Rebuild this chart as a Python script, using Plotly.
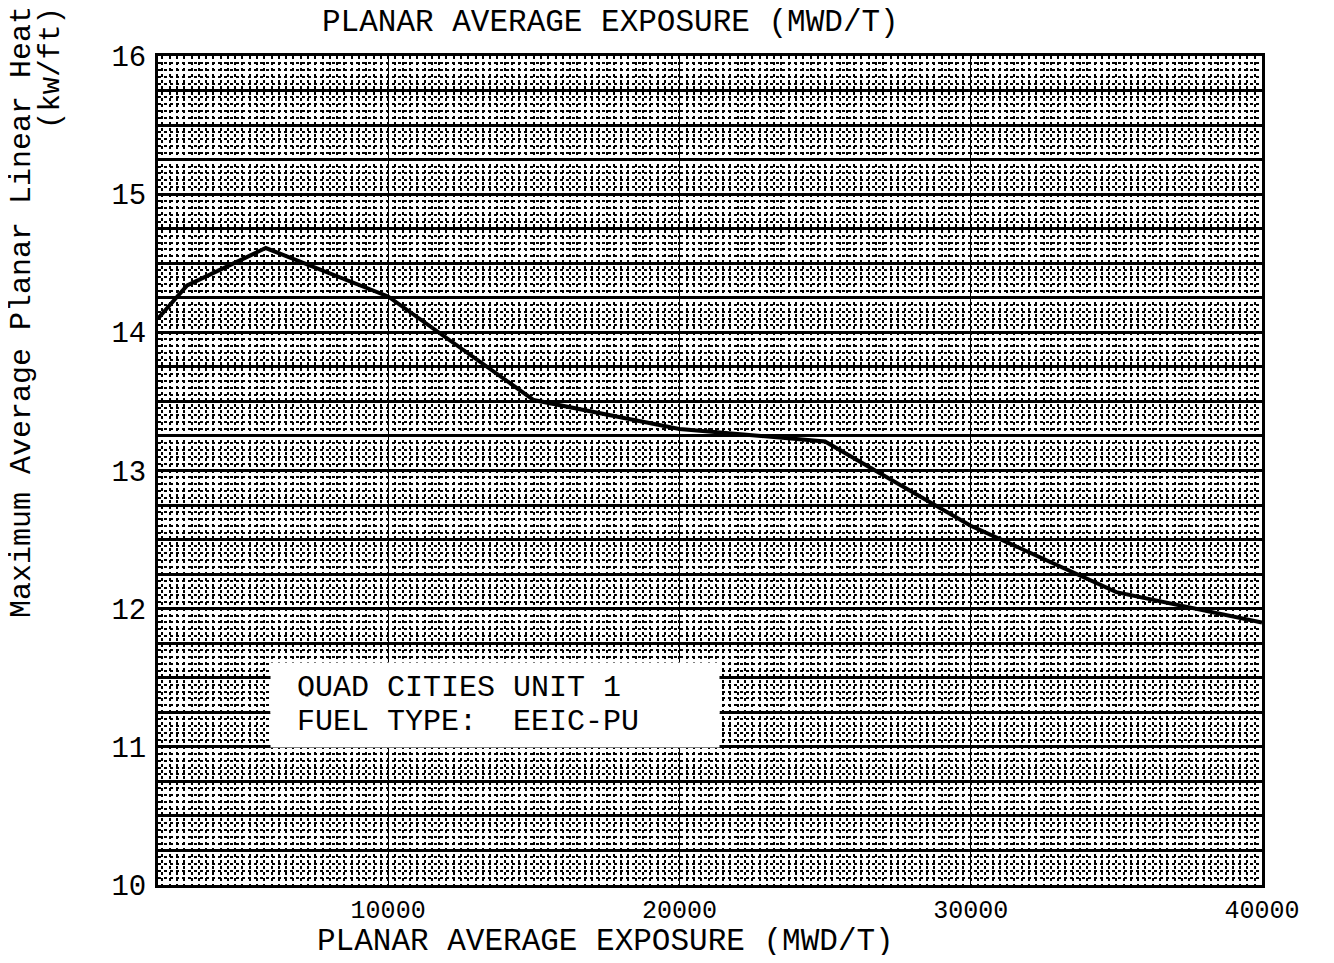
import plotly.graph_objects as go

# ---- data ----
exposure = [2100, 3100, 5800, 10000, 15000, 20000, 25000, 30000, 35000, 40000]
maplhgr = [14.10, 14.34, 14.61, 14.26, 13.51, 13.30, 13.21, 12.60, 12.12, 11.90]

x_tick_vals = [10000, 20000, 30000, 40000]
x_tick_text = ["10000", "20000", "30000", "40000"]
y_label_vals = [10, 11, 12, 13, 14, 15, 16]
y_label_text = ["10", "11", "12", "13", "14", "15", "16"]
y_grid_step = 0.25  # solid rules of the graph paper

title_text = "PLANAR AVERAGE EXPOSURE (MWD/T)"
x_title_text = "PLANAR AVERAGE EXPOSURE (MWD/T)"
y_title_line1 = "Maximum Average Planar Linear Heat"
y_title_line2 = "(kw/ft)"
note_line1 = "QUAD CITIES UNIT 1"
note_line2 = "FUEL TYPE:  EEIC-PU"

MONO = "Liberation Mono, DejaVu Sans Mono, monospace"

# y tick values: solid rules every 0.25, labels only on integers
n_steps = int(round((16 - 10) / y_grid_step))
y_tickvals = [10 + i * y_grid_step for i in range(n_steps + 1)]
y_ticktext = []
for v in y_tickvals:
    if abs(v - round(v)) < 1e-9 and round(v) in y_label_vals:
        y_ticktext.append(y_label_text[y_label_vals.index(round(v))])
    else:
        y_ticktext.append("")

fig = go.Figure()
fig.add_trace(go.Scatter(
    x=exposure, y=maplhgr, mode="lines",
    line=dict(color="black", width=4),
    showlegend=False, hoverinfo="skip",
))

# page body adds an 8px margin; work in reference pixels and shift
OFF = 8
W, H = 1334 - 2 * OFF, 963 - 2 * OFF
PL, PR, PT, PB = 158, 1262, 56, 885  # plot box in reference pixels
L = PL - OFF
R = W - (PR - OFF)
T = PT - OFF
B = H - (PB - OFF)
pw, ph = PR - PL, PB - PT


def px_x(p):
    return (p - PL) / pw


def px_y(p):
    return (PB - p) / ph


fig.update_layout(
    width=W, height=H,
    margin=dict(l=L, r=R, t=T, b=B),
    paper_bgcolor="white", plot_bgcolor="white",
    font=dict(family=MONO, color="black"),
    showlegend=False,
)

fig.update_xaxes(
    range=[2100, 40000],
    tickmode="array", tickvals=x_tick_vals, ticktext=x_tick_text,
    tickfont=dict(family=MONO, size=25, color="black"),
    ticks="", ticklabelstandoff=0,
    showline=True, mirror=True, linecolor="black", linewidth=3,
    showgrid=True, gridcolor="black", gridwidth=1,
    minor=dict(dtick=250, showgrid=True, gridcolor="black", gridwidth=1.5, griddash="dot", ticks=""),
    zeroline=False,
)
fig.update_yaxes(
    range=[10, 16],
    tickmode="array", tickvals=y_tickvals, ticktext=y_ticktext,
    tickfont=dict(family=MONO, size=29, color="black"),
    ticks="", ticklabelstandoff=3,
    showline=True, mirror=True, linecolor="black", linewidth=3,
    showgrid=True, gridcolor="black", gridwidth=2.8,
    minor=dict(dtick=0.05, showgrid=True, gridcolor="black", gridwidth=1.5, griddash="dot", ticks=""),
    zeroline=False,
)

# top title
fig.add_annotation(
    xref="paper", yref="paper", x=px_x(610), y=px_y(23),
    text=title_text, showarrow=False, xanchor="center", yanchor="middle",
    font=dict(family=MONO, size=31, color="black"), borderpad=0,
)
# bottom axis title
fig.add_annotation(
    xref="paper", yref="paper", x=px_x(605), y=px_y(942),
    text=x_title_text, showarrow=False, xanchor="center", yanchor="middle",
    font=dict(family=MONO, size=31, color="black"), borderpad=0,
)
# y title (two lines, rotated, the first running off the top edge)
fig.add_annotation(
    xref="paper", yref="paper", x=px_x(22), y=px_y(620),
    text=y_title_line1, showarrow=False, textangle=-90,
    xanchor="center", yanchor="bottom",
    font=dict(family=MONO, size=30, color="black"),
)
fig.add_annotation(
    xref="paper", yref="paper", x=px_x(51), y=px_y(68),
    text=y_title_line2, showarrow=False, textangle=-90,
    xanchor="center", yanchor="middle",
    font=dict(family=MONO, size=29, color="black"),
)

# label box
NB = "\u00a0"
for txt, ypix in [(note_line1, 688), (note_line2, 722)]:
    padded = NB + txt + NB * (23 - len(txt))
    fig.add_annotation(
        xref="paper", yref="paper", x=px_x(270), y=px_y(ypix),
        text=padded, showarrow=False, xanchor="left", yanchor="middle",
        align="left", bgcolor="white", borderpad=8,
        font=dict(family=MONO, size=30, color="black"),
    )

fig.write_html("out.html")
